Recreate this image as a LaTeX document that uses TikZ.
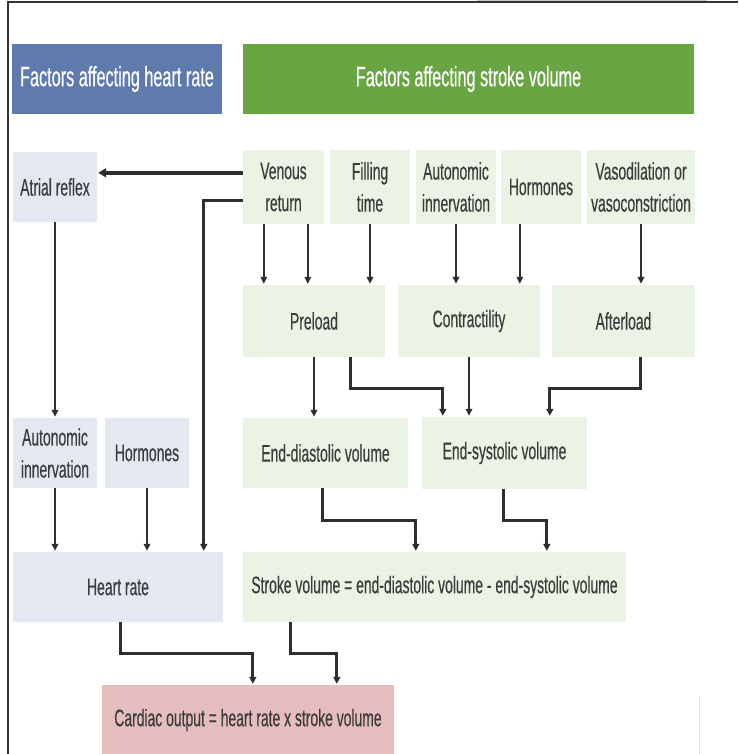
\documentclass[tikz,border=0pt]{standalone}
\usepackage{fontspec}
\setmainfont{Liberation Sans}[FakeStretch=0.58,FakeBold=0.35]
\usetikzlibrary{arrows.meta,calc}
\definecolor{hblue}{HTML}{5F7BAE}
\definecolor{hgreen}{HTML}{6AA543}
\definecolor{lgreen}{HTML}{EAF3E4}
\definecolor{lblue}{HTML}{E4E8F1}
\definecolor{lpink}{HTML}{E6BDBF}
\definecolor{txt}{HTML}{3C3C3C}
\definecolor{lin}{HTML}{2E2E2E}
\tikzset{
  header/.style={rectangle, inner sep=0pt, text=white, font=\fontsize{28}{32}\selectfont},
  gbox/.style={rectangle, inner sep=0pt, fill=lgreen, text=txt, align=center, font=\fontsize{24}{32}\selectfont},
  bbox/.style={rectangle, inner sep=0pt, fill=lblue, text=txt, align=center, font=\fontsize{24}{32}\selectfont},
  pbox/.style={rectangle, inner sep=0pt, fill=lpink, text=txt, align=center, font=\fontsize{24}{32}\selectfont},
  arr/.style={draw=lin, line width=1.8pt, -{Triangle[length=7pt,width=6.5pt]}, shorten >=1pt},
  elb/.style={draw=lin, line width=2.8pt, -{Triangle[length=7pt,width=7pt]}, shorten >=1pt},
  thk/.style={draw=lin, line width=3.6pt, -{Triangle[length=8pt,width=9pt]}, shorten >=1pt},
}
\begin{document}
\begin{tikzpicture}[x=1pt,y=-1pt]
\useasboundingbox (0,0) rectangle (738,754);
\fill[white] (0,0) rectangle (738,754);
% frame
\fill[gray!45] (477,0) rectangle (707,2.5);
\draw[line width=2pt, black!80] (8,754) -- (8,2) -- (738,2);
\draw[line width=1pt, black!12] (699,697) -- (699,754);
% headers
\node[header, fill=hblue, minimum width=210pt, minimum height=70pt] (hhr) at (117,79) {Factors affecting heart rate};
\node[header, fill=hgreen, minimum width=451pt, minimum height=70pt] (hsv) at (468.5,79) {Factors affecting stroke volume};
% row 1
\node[bbox, minimum width=84pt, minimum height=70pt] (atr) at (55,187) {Atrial reflex};
\node[gbox, minimum width=81pt, minimum height=74pt] (ven) at (283.5,187) {Venous\\return};
\node[gbox, minimum width=80pt, minimum height=74pt] (fil) at (370,187) {Filling\\time};
\node[gbox, minimum width=80pt, minimum height=74pt] (ani) at (456,187) {Autonomic\\innervation};
\node[gbox, minimum width=80pt, minimum height=74pt] (hor) at (541,187) {Hormones};
\node[gbox, minimum width=108pt, minimum height=74pt] (vas) at (641,187) {Vasodilation or\\vasoconstriction};
% row 2
\node[gbox, minimum width=142pt, minimum height=72pt] (pre) at (314,321) {Preload};
\node[gbox, minimum width=142pt, minimum height=72pt] (con) at (469,321) {Contractility};
\node[gbox, minimum width=143pt, minimum height=72pt] (aft) at (623.5,321) {Afterload};
% row 3
\node[bbox, minimum width=84pt, minimum height=70pt] (ahr) at (55,453) {Autonomic\\innervation};
\node[bbox, minimum width=84pt, minimum height=70pt] (hhor) at (147,453) {Hormones};
\node[gbox, minimum width=165pt, minimum height=70pt] (edv) at (325.5,453) {End-diastolic volume};
\node[gbox, minimum width=165pt, minimum height=72pt] (esv) at (504.5,453) {End-systolic volume};
% row 4
\node[bbox, minimum width=210pt, minimum height=70pt] (hr) at (118,587) {Heart rate};
\node[gbox, minimum width=383pt, minimum height=70pt] (sv) at (434.5,587) {Stroke volume = end-diastolic volume - end-systolic volume};
% row 5
\node[pbox, minimum width=292pt, minimum height=70pt] (co) at (248,720) {Cardiac output = heart rate x stroke volume};
% helper coordinates
\coordinate (va) at ($(ven.north west)+(0,23)$);
\coordinate (vb) at ($(ven.north west)+(0,51)$);
\coordinate (vbd) at ($(hr.north west)+(191,0)$);
\coordinate (v1) at ($(ven.south west)+(21,0)$);
\coordinate (v2) at ($(ven.south west)+(65,0)$);
\coordinate (h1) at ($(hor.south west)+(19,0)$);
\coordinate (p2) at ($(pre.south west)+(108,0)$);
\coordinate (e1) at ($(esv.north west)+(21,0)$);
\coordinate (a1) at ($(aft.south west)+(89,0)$);
\coordinate (e2) at ($(esv.north west)+(128,0)$);
\coordinate (d1) at ($(edv.south west)+(80,0)$);
\coordinate (s1) at ($(sv.north west)+(173,0)$);
\coordinate (d2) at ($(esv.south west)+(82,0)$);
\coordinate (s2) at ($(sv.north west)+(304,0)$);
\coordinate (r1) at ($(hr.south west)+(108,0)$);
\coordinate (c1) at ($(co.north west)+(151,0)$);
\coordinate (r2) at ($(sv.south west)+(48,0)$);
\coordinate (c2) at ($(co.north west)+(235,0)$);
% connectors
\draw[thk] (va) -- (atr.east |- va);
\draw[elb] (vb) -| (vbd);
\draw[arr] (v1) -- (v1 |- pre.north);
\draw[arr] (v2) -- (v2 |- pre.north);
\draw[arr] (fil.south) -- (fil.south |- pre.north);
\draw[arr] (ani.south) -- (ani.south |- con.north);
\draw[arr] (h1) -- (h1 |- con.north);
\draw[arr] (vas.south) -- (vas.south |- aft.north);
\draw[arr] (atr.south) -- (ahr.north);
\draw[arr] (pre.south) -- (pre.south |- edv.north);
\draw[elb] (p2) -- ++(0,31) -| (e1);
\draw[arr] (con.south) -- (con.south |- esv.north);
\draw[elb] (a1) -- ++(0,31) -| (e2);
\draw[arr] (ahr.south) -- (ahr.south |- hr.north);
\draw[arr] (hhor.south) -- (hhor.south |- hr.north);
\draw[elb] (d1) -- ++(0,32) -| (s1);
\draw[elb] (d2) -- ++(0,31) -| (s2);
\draw[elb] (r1) -- ++(0,31) -| (c1);
\draw[elb] (r2) -- ++(0,31) -| (c2);
\end{tikzpicture}
\end{document}
